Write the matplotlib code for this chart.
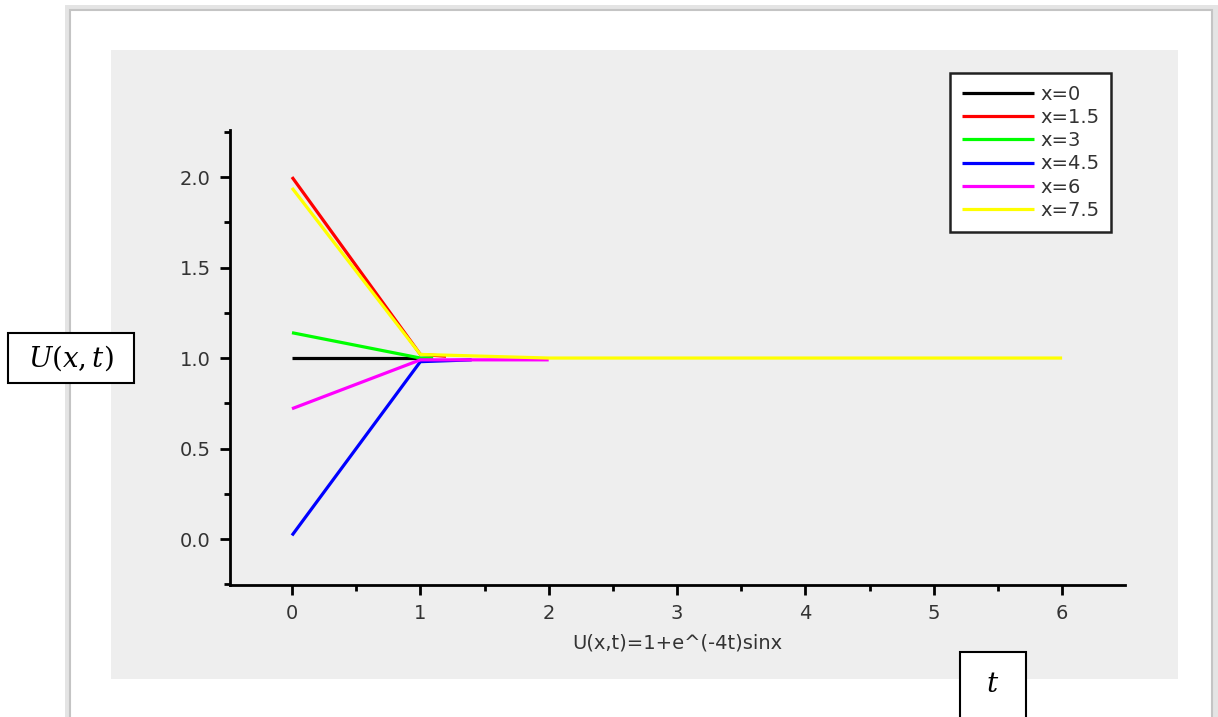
#Purpose: Recreate the U(x,t)=1+e^(-4t)sinx line chart
import matplotlib.pyplot as plt
from matplotlib.patches import Rectangle
from matplotlib.ticker import MultipleLocator

plt.rcParams['mathtext.fontset'] = 'dejavuserif'

##########################################
#Data
labels = ['x=0', 'x=1.5', 'x=3', 'x=4.5', 'x=6', 'x=7.5']
colors = ['#000000', '#ff0000', '#00ff00', '#0000ff', '#ff00ff', '#ffff00']

t_x0 = [0, 1]
u_x0 = [1.0, 1.0]
t_x15 = [0, 1, 1.2]
u_x15 = [2.0, 1.02, 1.01]
t_x3 = [0, 1, 1.1]
u_x3 = [1.14, 1.0, 1.0]
t_x45 = [0, 1, 1.4]
u_x45 = [0.02, 0.98, 0.99]
t_x6 = [0, 1, 2]
u_x6 = [0.72, 0.99, 0.99]
t_x75 = [0, 1, 2, 3, 4, 5, 6]
u_x75 = [1.94, 1.02, 1.0, 1.0, 1.0, 1.0, 1.0]

series_t = [t_x0, t_x15, t_x3, t_x45, t_x6, t_x75]
series_u = [u_x0, u_x15, u_x3, u_x45, u_x6, u_x75]

font_name = 'DejaVu Sans'
font_size = 14
text_color = '#333333'

W, H = 1218, 717
fig = plt.figure(figsize=[W / 100, H / 100], dpi=100)
fig.patch.set_facecolor('white')

#Outer page frame with a soft shadow
fig.patches.append(Rectangle((68 / W, -0.05), (1146) / W, 1.05 - 8 / H, transform=fig.transFigure,
	facecolor='none', edgecolor='#e4e4e4', linewidth=5, zorder=0))
fig.patches.append(Rectangle((70 / W, -0.05), (1142) / W, 1.05 - 10 / H, transform=fig.transFigure,
	facecolor='white', edgecolor='#c4c4c4', linewidth=1.5, zorder=0))
#Grey plot panel
fig.patches.append(Rectangle((111 / W, 1 - 679 / H), (1178 - 111) / W, (679 - 50) / H, transform=fig.transFigure,
	facecolor='#eeeeee', edgecolor='none', zorder=0))

ax = fig.add_axes([230 / W, 1 - 585 / H, (1125 - 230) / W, (585 - 130) / H])
ax.set_zorder(5)
ax.set_facecolor('none')

for ti, tt in enumerate(series_t):
	ax.plot(tt, series_u[ti], color=colors[ti], linewidth=2.3, label=labels[ti], solid_capstyle='butt')

ax.set_xlim(-0.483, 6.49)
ax.set_ylim(-0.254, 2.26)

for side in ['top', 'right']:
	ax.spines[side].set_visible(False)
for side in ['left', 'bottom']:
	ax.spines[side].set_linewidth(2)

ax.xaxis.set_minor_locator(MultipleLocator(0.5))
ax.yaxis.set_minor_locator(MultipleLocator(0.25))
ax.set_xticks(range(0, 7))
ax.set_yticks([0.0, 0.5, 1.0, 1.5, 2.0])
ax.set_yticklabels(['0.0', '0.5', '1.0', '1.5', '2.0'])
ax.tick_params(which='major', direction='out', length=7, width=2, labelsize=font_size, pad=7, colors='black')
ax.tick_params(which='minor', direction='out', length=4, width=2)
for lab in ax.get_xticklabels() + ax.get_yticklabels():
	lab.set_fontfamily(font_name)
	lab.set_color(text_color)

ax.set_xlabel('U(x,t)=1+e^(-4t)sinx', fontsize=font_size, fontfamily=font_name, color=text_color, labelpad=7)

leg = ax.legend(loc='upper left', bbox_to_anchor=((950 - 230) / (1125 - 230), 1 + (130 - 73) / (585 - 130)),
	prop={'family': font_name, 'size': font_size}, frameon=True, fancybox=False,
	handlelength=3.7, handletextpad=0.35, labelspacing=0.22, borderpad=0.6, borderaxespad=0)
leg.get_frame().set_edgecolor('#222222')
leg.get_frame().set_linewidth(1.8)
leg.get_frame().set_facecolor('white')
leg.get_frame().set_alpha(1)
for txt in leg.get_texts():
	txt.set_color(text_color)

#Boxed labels added on the page
fig.patches.append(Rectangle((8 / W, 1 - 383 / H), 126 / W, 50 / H, transform=fig.transFigure,
	facecolor='white', edgecolor='black', linewidth=1.5, zorder=2))
fig.text(71 / W, 1 - 358 / H, '$U(x,t)$', ha='center', va='center', fontsize=20, zorder=3)
fig.patches.append(Rectangle((960 / W, -0.05), 66 / W, (717 - 652) / H + 0.05, transform=fig.transFigure,
	facecolor='white', edgecolor='black', linewidth=1.5, zorder=2))
fig.text(993 / W, 1 - 684 / H, '$t$', ha='center', va='center', fontsize=20, zorder=3)

plt.savefig('out.png', dpi=100)
